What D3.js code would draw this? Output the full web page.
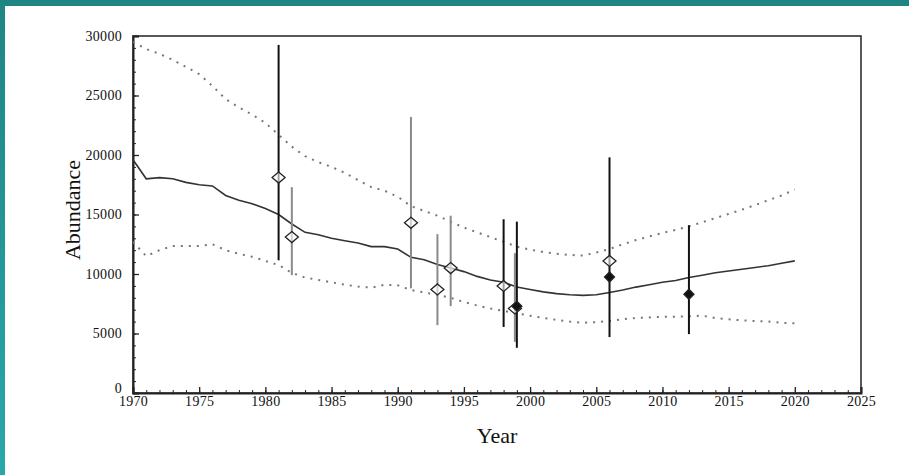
<!DOCTYPE html>
<html>
<head>
<meta charset="utf-8">
<script src="https://cdn.jsdelivr.net/npm/d3@7"></script>
<style>
  html, body { margin: 0; padding: 0; background: #fff; }
  svg { display: block; }
  .tick text { font-family: "Liberation Serif", "Times New Roman", serif; font-size: 14px; fill: #111; letter-spacing: 0.3px; }
  .lab { font-family: "Liberation Serif", "Times New Roman", serif; fill: #111; }
</style>
</head>
<body>
<svg id="chart" width="909" height="475"></svg>
<script>
var margin = {top: 36, right: 48, bottom: 82, left: 133};

// model fit, one value per year
var years = d3.range(1970, 2021);
var median = [19600, 18000, 18100, 18000, 17700, 17500, 17400, 16600, 16200, 15900,
  15500, 15000, 14200, 13500, 13300, 13000, 12800, 12600, 12300, 12300,
  12100, 11400, 11200, 10800, 10500, 10200, 9800, 9500, 9300, 8900,
  8700, 8500, 8350, 8250, 8200, 8250, 8450, 8650, 8900, 9100,
  9300, 9450, 9700, 9900, 10100, 10250, 10400, 10550, 10700, 10900, 11100];
var upper = [29500, 28900, 28500, 28000, 27400, 26800, 25800, 24700, 24000, 23400,
  22700, 21700, 20700, 19900, 19400, 19000, 18500, 17900, 17300, 17000,
  16500, 15700, 15300, 14900, 14400, 13900, 13500, 13100, 12700, 12300,
  12050, 11850, 11700, 11600, 11550, 11800, 12100, 12500, 12850, 13150,
  13450, 13700, 14000, 14350, 14700, 15050, 15400, 15800, 16200, 16600, 17100];
var lower = [12700, 11500, 12000, 12350, 12350, 12350, 12500, 12000, 11700, 11450,
  11100, 10750, 10100, 9700, 9500, 9300, 9100, 8950, 8850, 9100,
  9050, 8650, 8450, 8250, 8000, 7650, 7350, 7100, 6900, 6700,
  6500, 6300, 6150, 6000, 5900, 5950, 6050, 6200, 6300, 6350,
  6400, 6400, 6450, 6500, 6300, 6200, 6100, 6050, 6000, 5900, 5850];

// survey estimates with intervals
var openBlack = [
  {year: 1981, value: 18100, lo: 11150, hi: 29250},
  {year: 1998, value: 9000, lo: 5550, hi: 14600},
  {year: 2006, value: 11100, lo: null, hi: null}
];
var openGray = [
  {year: 1982, value: 13100, lo: 9900, hi: 17300},
  {year: 1991, value: 14300, lo: 8800, hi: 23200},
  {year: 1993, value: 8700, lo: 5700, hi: 13350},
  {year: 1994, value: 10500, lo: 7300, hi: 14900},
  {year: 1998.85, value: 7100, lo: 4300, hi: 11750}
];
var filledBlack = [
  {year: 1999, value: 7300, lo: 3800, hi: 14400},
  {year: 2006, value: 9750, lo: 4700, hi: 19800},
  {year: 2012, value: 8300, lo: 4950, hi: 14100}
];

var xMajor = d3.range(1970, 2026, 5);
var xMinor = d3.range(1970, 2026, 1);
var yMajor = d3.range(0, 30001, 5000);
var yMinor = d3.range(0, 30001, 1000);

var svg = d3.select("#chart"),
  width = +svg.attr("width") - margin.left - margin.right,
  height = +svg.attr("height") - margin.top - margin.bottom;

// teal frame of the slide
var defs = svg.append("defs");
var grad = defs.append("linearGradient").attr("id", "teal")
  .attr("x1", 0).attr("y1", 0).attr("x2", 0).attr("y2", 1);
grad.append("stop").attr("offset", "0%").attr("stop-color", "#1f8484");
grad.append("stop").attr("offset", "100%").attr("stop-color", "#2aa8a9");
svg.append("rect").attr("x", 0).attr("y", 0).attr("width", 909).attr("height", 6).attr("fill", "#1f8484");
svg.append("rect").attr("x", 0).attr("y", 0).attr("width", 5).attr("height", 475).attr("fill", "url(#teal)");

var g = svg.append("g").attr("transform", "translate(" + margin.left + "," + margin.top + ")");

var x = d3.scaleLinear().domain([1970, 2025]).range([0, width]);
var y = d3.scaleLinear().domain([0, 30000]).range([height, 0]);

// frame
g.append("rect").attr("width", width).attr("height", height)
  .attr("fill", "none").attr("stroke", "#222").attr("stroke-width", 1.5);

// axes: minor ticks then major with labels
g.append("g").attr("transform", "translate(0," + height + ")")
  .call(d3.axisBottom(x).tickValues(xMinor).tickSize(-3).tickFormat(""))
  .call(function(a) { a.select(".domain").remove(); a.selectAll("line").attr("stroke", "#222"); });
g.append("g").attr("transform", "translate(0," + height + ")")
  .call(d3.axisBottom(x).tickValues(xMajor).tickSize(-6).tickPadding(3).tickFormat(d3.format("d")))
  .call(function(a) { a.select(".domain").attr("stroke", "#222").attr("stroke-width", 2); a.selectAll("line").attr("stroke", "#222").attr("stroke-width", 1.3); });

g.append("g")
  .call(d3.axisLeft(y).tickValues(yMinor).tickSize(-3).tickFormat(""))
  .call(function(a) { a.select(".domain").remove(); a.selectAll("line").attr("stroke", "#222"); });
g.append("g")
  .call(d3.axisLeft(y).tickValues(yMajor).tickSize(-6).tickPadding(11).tickFormat(d3.format("d")))
  .call(function(a) {
    a.select(".domain").attr("stroke", "#222").attr("stroke-width", 2);
    a.selectAll("line").attr("stroke", "#222").attr("stroke-width", 1.3);
    a.selectAll(".tick text").filter(function(d) { return d === 0; }).attr("dy", "-0.05em");
  });

// fitted trajectory and bounds
var line = d3.line().x(function(d) { return x(d[0]); }).y(function(d) { return y(d[1]); });
var bound = function(arr) { return years.map(function(yr, i) { return [yr, arr[i]]; }); };

g.append("path").datum(bound(upper)).attr("d", line)
  .attr("fill", "none").attr("stroke", "#777").attr("stroke-width", 2).attr("stroke-dasharray", "2,6");
g.append("path").datum(bound(lower)).attr("d", line)
  .attr("fill", "none").attr("stroke", "#777").attr("stroke-width", 2).attr("stroke-dasharray", "2,6");
g.append("path").datum(bound(median)).attr("d", line)
  .attr("fill", "none").attr("stroke", "#333").attr("stroke-width", 1.6);

var diamond = function(hw, hh) {
  return "M0," + (-hh) + "L" + hw + ",0L0," + hh + "L" + (-hw) + ",0Z";
};

var plotObs = function(data, color) {
  var bars = data.filter(function(d) { return d.lo != null; });
  g.selectAll(null).data(bars).enter().append("line")
    .attr("x1", function(d) { return x(d.year); })
    .attr("x2", function(d) { return x(d.year); })
    .attr("y1", function(d) { return y(d.lo); })
    .attr("y2", function(d) { return y(d.hi); })
    .attr("stroke", color).attr("stroke-width", 2);
};
var plotPts = function(data, filled) {
  g.selectAll(null).data(data).enter().append("path")
    .attr("transform", function(d) { return "translate(" + x(d.year) + "," + y(d.value) + ")"; })
    .attr("d", filled ? diamond(5, 5) : diamond(6.5, 5.5))
    .attr("fill", filled ? "#111" : "#fff")
    .attr("fill-opacity", filled ? 1 : 0.6)
    .attr("stroke", "#222").attr("stroke-width", 1.3);
};

plotObs(openGray, "#8a8a8a");
plotObs(openBlack, "#111");
plotObs(filledBlack, "#111");
plotPts(openGray, false);
plotPts(openBlack, false);
plotPts(filledBlack, true);

// axis titles
svg.append("text").attr("class", "lab")
  .attr("x", margin.left + width / 2).attr("y", 443)
  .attr("text-anchor", "middle").attr("font-size", 22).text("Year");
svg.append("text").attr("class", "lab")
  .attr("transform", "translate(80," + 210 + ") rotate(-90)")
  .attr("text-anchor", "middle").attr("font-size", 22).text("Abundance");
</script>
</body>
</html>
